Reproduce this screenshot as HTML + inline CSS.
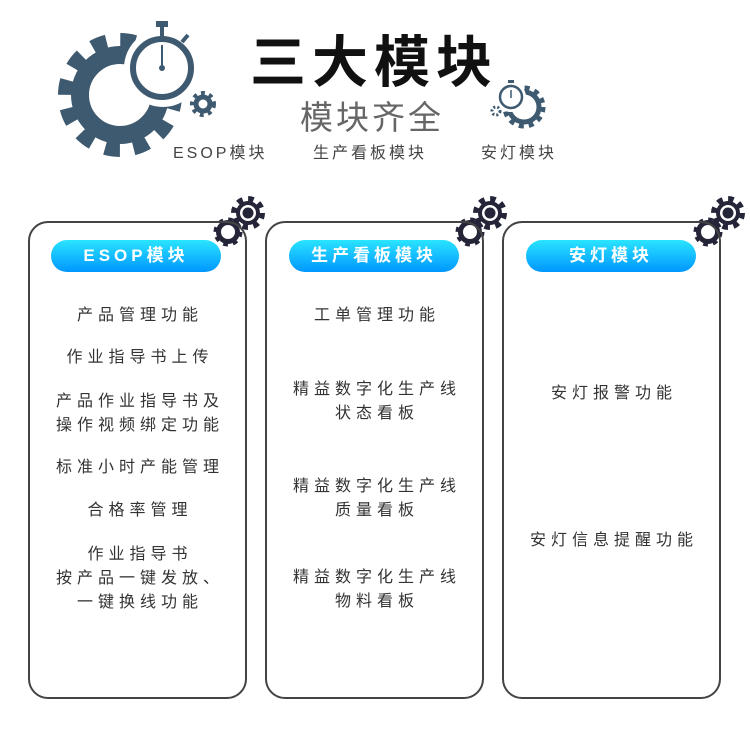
<!DOCTYPE html>
<html><head><meta charset="utf-8"><style>
body{margin:0;width:750px;height:734px;background:#fff;position:relative;overflow:hidden;font-family:"Liberation Sans","Noto Sans CJK SC",sans-serif}
.t{position:absolute;text-align:center;font-size:16px;letter-spacing:5px;color:#333;line-height:24px;white-space:nowrap;padding-left:5px;box-sizing:border-box}
.card{position:absolute;top:221px;width:219px;height:478px;border:2px solid #444;border-radius:20px;box-sizing:border-box}
.pill{position:absolute;top:240px;width:170px;height:32px;border-radius:16px;background:linear-gradient(#2ae4ff,#0096ff);color:#fff;font-size:17px;letter-spacing:4px;text-align:center;line-height:32px;font-weight:bold}
</style></head><body>
<svg width="750" height="734" style="position:absolute;left:0;top:0">
<defs>
<g id="cg">
 <circle cx="20" cy="-8" r="14" fill="none" stroke="#25253a" stroke-width="6" stroke-dasharray="5.5 5.5"/>
 <circle cx="20" cy="-8" r="12" fill="#25253a"/>
 <circle cx="20" cy="-8" r="8" fill="#fff"/>
 <circle cx="20" cy="-8" r="5.5" fill="#25253a"/>
 <circle cx="0" cy="11" r="12" fill="none" stroke="#25253a" stroke-width="5" stroke-dasharray="4.5 4.9"/>
 <circle cx="0" cy="11" r="9.5" fill="none" stroke="#25253a" stroke-width="5"/>
 <circle cx="0" cy="11" r="6.5" fill="#fff"/>
</g>
</defs>
<circle cx="120" cy="95" r="55" fill="none" stroke="#3e5a70" stroke-width="14" stroke-dasharray="15 13.8"/>
<circle cx="120" cy="95" r="40" fill="none" stroke="#3e5a70" stroke-width="18"/>
<circle cx="163" cy="68" r="39" fill="#fff"/>
<circle cx="162" cy="68" r="29" fill="none" stroke="#3e5a70" stroke-width="6"/>
<rect x="156" y="21" width="12" height="6" fill="#3e5a70"/>
<rect x="160" y="25" width="4" height="13" fill="#3e5a70"/>
<line x1="182" y1="42" x2="188" y2="35" stroke="#3e5a70" stroke-width="4"/>
<line x1="162" y1="45" x2="162" y2="68" stroke="#3e5a70" stroke-width="2"/>
<circle cx="162" cy="68" r="3" fill="#3e5a70"/>
<circle cx="203" cy="104" r="10" fill="none" stroke="#3e5a70" stroke-width="6" stroke-dasharray="3.5 4"/>
<circle cx="203" cy="104" r="7" fill="none" stroke="#3e5a70" stroke-width="5"/>
<circle cx="524" cy="107" r="19" fill="none" stroke="#3e5a70" stroke-width="5" stroke-dasharray="5 5"/>
<circle cx="524" cy="107" r="15" fill="none" stroke="#3e5a70" stroke-width="5"/>
<circle cx="511" cy="97" r="15" fill="#fff"/>
<circle cx="511" cy="97" r="11" fill="none" stroke="#3e5a70" stroke-width="2.5"/>
<rect x="508" y="80" width="6" height="3" fill="#3e5a70"/>
<line x1="511" y1="90" x2="511" y2="98" stroke="#3e5a70" stroke-width="1.5"/>
<circle cx="496" cy="111" r="4" fill="none" stroke="#3e5a70" stroke-width="3" stroke-dasharray="2 2"/>
<use href="#cg" x="228" y="221"/>
<use href="#cg" x="470" y="221"/>
<use href="#cg" x="708" y="221"/>
</svg>
<div style="position:absolute;left:250px;top:28px;font-size:56px;letter-spacing:6px;color:#111;line-height:70px;font-weight:bold">三大模块</div>
<div style="position:absolute;left:300px;top:96px;font-size:33px;letter-spacing:3px;color:#666;line-height:44px">模块齐全</div>
<div style="position:absolute;left:173px;top:143px;font-size:16px;letter-spacing:3px;color:#444;line-height:22px">ESOP模块</div>
<div style="position:absolute;left:313px;top:143px;font-size:16px;letter-spacing:3px;color:#444;line-height:22px">生产看板模块</div>
<div style="position:absolute;left:481px;top:143px;font-size:16px;letter-spacing:3px;color:#444;line-height:22px">安灯模块</div>

<div class="card" style="left:28px"></div>
<div class="card" style="left:265px"></div>
<div class="card" style="left:502px"></div>
<div class="pill" style="left:51px">ESOP模块</div>
<div class="pill" style="left:289px">生产看板模块</div>
<div class="pill" style="left:526px">安灯模块</div>

<div class="t" style="left:28px;width:219px;top:304px">产品管理功能</div>
<div class="t" style="left:28px;width:219px;top:346px">作业指导书上传</div>
<div class="t" style="left:28px;width:219px;top:390px">产品作业指导书及<br>操作视频绑定功能</div>
<div class="t" style="left:28px;width:219px;top:456px">标准小时产能管理</div>
<div class="t" style="left:28px;width:219px;top:499px">合格率管理</div>
<div class="t" style="left:28px;width:219px;top:543px">作业指导书<br>按产品一键发放、<br>一键换线功能</div>

<div class="t" style="left:265px;width:219px;top:304px">工单管理功能</div>
<div class="t" style="left:265px;width:219px;top:378px">精益数字化生产线<br>状态看板</div>
<div class="t" style="left:265px;width:219px;top:475px">精益数字化生产线<br>质量看板</div>
<div class="t" style="left:265px;width:219px;top:566px">精益数字化生产线<br>物料看板</div>

<div class="t" style="left:502px;width:219px;top:382px">安灯报警功能</div>
<div class="t" style="left:502px;width:219px;top:529px">安灯信息提醒功能</div>
</body></html>
